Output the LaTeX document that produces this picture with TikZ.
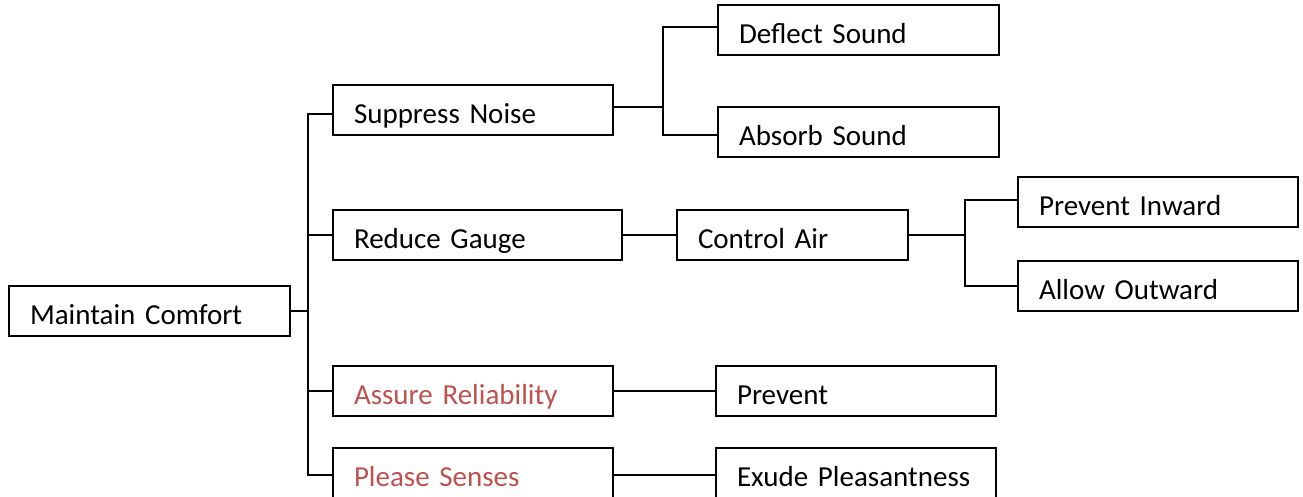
\documentclass[tikz,border=0pt]{standalone}
\usepackage{fontspec}
\setmainfont{Carlito}
\usetikzlibrary{calc}
\definecolor{accentred}{HTML}{C0504D}
\tikzset{
  fbox/.style={draw, line width=1.8pt, anchor=north west, minimum height=50pt,
    text height=28pt, text depth=2pt, inner xsep=21pt, inner ysep=0pt,
    outer sep=0pt, align=left, font=\fontsize{29}{34}\selectfont},
  link/.style={line width=1.8pt}
}

\begin{document}
\begin{tikzpicture}[x=1pt,y=-1pt]
    \useasboundingbox (0,0) rectangle (1303,496);
    % boxes
    \node[fbox, text width=239pt] (comfort) at (9,286) {Maintain Comfort};
    \node[fbox, text width=238pt] (noise) at (333,85) {Suppress Noise};
    \node[fbox, text width=239pt] (deflect) at (718,5) {Deflect Sound};
    \node[fbox, text width=239pt] (absorb) at (718,107) {Absorb Sound};
    \node[fbox, text width=247pt] (gauge) at (333,210) {Reduce Gauge};
    \node[fbox, text width=189pt] (air) at (677,210) {Control Air};
    \node[fbox, text width=238pt] (inward) at (1018,177) {Prevent Inward};
    \node[fbox, text width=238pt] (outward) at (1018,261) {Allow Outward};
    \node[fbox, text width=238pt, text=accentred] (reliab) at (333,366) {Assure Reliability};
    \node[fbox, text width=238pt] (prevent) at (716,366) {Prevent};
    \node[fbox, text width=238pt, text=accentred] (senses) at (333,448) {Please Senses};
    \node[fbox, text width=238pt] (exude) at (716,448) {Exude Pleasantness};
    % forks
    \coordinate (trunk) at (308,311);
    \coordinate (tTop) at (308,114);
    \coordinate (tBot) at (308,475);
    \coordinate (nFork) at (663,107);
    \coordinate (nTop) at (663,27);
    \coordinate (nBot) at (663,135);
    \coordinate (aFork) at (965,235);
    \coordinate (aTop) at (965,200);
    \coordinate (aBot) at (965,286);
    % connectors
    \draw[link] (comfort.east) -- (comfort.east -| trunk);
    \draw[link] (tTop -| noise.west) -- (tTop) -- (tBot) -- (tBot -| senses.west);
    \draw[link] (trunk |- gauge.west) -- (gauge.west);
    \draw[link] (trunk |- reliab.west) -- (reliab.west);
    \draw[link] (noise.east |- nFork) -- (nFork);
    \draw[link] (nTop -| deflect.west) -- (nTop) -- (nBot) -- (nBot -| absorb.west);
    \draw[link] (gauge.east) -- (air.west);
    \draw[link] (air.east) -- (air.east -| aFork);
    \draw[link] (aTop -| inward.west) -- (aTop) -- (aBot) -- (aBot -| outward.west);
    \draw[link] (reliab.east) -- (prevent.west);
    \draw[link] (senses.east |- tBot) -- (exude.west |- tBot);
\end{tikzpicture}
\end{document}
